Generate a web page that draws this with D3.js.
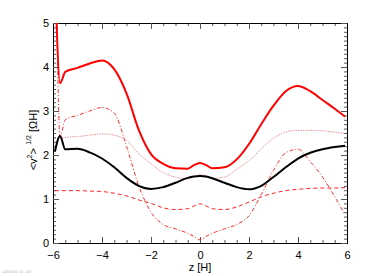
<!DOCTYPE html>
<html>
<head>
<meta charset="utf-8">
<script src="https://cdn.jsdelivr.net/npm/d3@7"></script>
<style>
  body { margin: 0; background: #fff; }
  text { font-family: "Liberation Sans", Arial, sans-serif; }
</style>
</head>
<body>
<svg id="chart" width="382" height="276"></svg>
<script>
// z grid shared by all profiles
const zGrid = [-5.92, -5.71, -5.5, -5, -4.5, -4, -3.5, -3, -2.5, -2, -1.5, -1, -0.5, -0.25,
  0, 0.25, 0.5, 1, 1.5, 2, 2.5, 3, 3.5, 4, 4.5, 5, 5.5, 5.92];

const vTotal = [6.2, 3.63, 3.89, 3.98, 4.08, 4.15, 3.95, 3.4, 2.57, 2.02, 1.8, 1.7, 1.69, 1.77,
  1.82, 1.77, 1.7, 1.72, 1.9, 2.25, 2.7, 3.12, 3.45, 3.57, 3.45, 3.25, 3.05, 2.87];
const vBlack = [2.08, 2.43, 2.13, 2.14, 2.06, 1.92, 1.72, 1.48, 1.3, 1.23, 1.27, 1.37, 1.48, 1.51,
  1.52, 1.51, 1.47, 1.37, 1.27, 1.22, 1.3, 1.5, 1.72, 1.92, 2.05, 2.13, 2.18, 2.21];
const vDotted = [2.38, 2.38, 2.4, 2.42, 2.45, 2.48, 2.45, 2.33, 2.03, 1.8, 1.6, 1.5, 1.46, 1.5,
  1.56, 1.52, 1.47, 1.5, 1.68, 1.87, 2.14, 2.38, 2.52, 2.56, 2.56, 2.55, 2.52, 2.49];
const vDashDot = [8, 2.42, 2.8, 2.9, 3.0, 3.08, 2.95, 2.2, 1.3, 0.7, 0.42, 0.32, 0.22, 0.15,
  0.07, 0.15, 0.22, 0.32, 0.42, 0.62, 1.1, 1.65, 2.05, 2.13, 1.85, 1.5, 1.05, 0.64];
const vDashed = [1.19, 1.19, 1.19, 1.19, 1.18, 1.17, 1.13, 1.07, 0.98, 0.9, 0.8, 0.76, 0.78, 0.84,
  0.89, 0.84, 0.78, 0.76, 0.82, 0.93, 1.05, 1.13, 1.19, 1.22, 1.24, 1.25, 1.25, 1.26];

const xTicks = [-6, -4, -2, 0, 2, 4, 6];
const yTicks = [0, 1, 2, 3, 4, 5];

const svg = d3.select('#chart');
const pLeft = 53, pRight = 347, pTop = 23, pBottom = 243;

const x = d3.scaleLinear().domain([-6, 6]).range([pLeft, pRight]);
const y = d3.scaleLinear().domain([0, 5]).range([pBottom, pTop]);

svg.append('defs').append('clipPath').attr('id', 'plot')
  .append('rect').attr('x', pLeft).attr('y', pTop)
  .attr('width', pRight - pLeft).attr('height', pBottom - pTop);

// axes with inward ticks on all four sides
const minorX = d3.range(-6, 6.01, 0.5);
const minorY = d3.range(0, 5.001, 0.1);

function addAxis(axisFn, scale, major, minor, transform, labels, pad) {
  const g = svg.append('g').attr('transform', transform);
  g.call(axisFn(scale).tickValues(minor).tickSize(-3).tickFormat(''));
  const gm = svg.append('g').attr('transform', transform);
  gm.call(axisFn(scale).tickValues(major).tickSize(-6).tickPadding(pad)
    .tickFormat(labels ? (d) => (d < 0 ? '\u2212' + Math.abs(d) : d) : ''));
  [g, gm].forEach((a) => {
    a.select('.domain').attr('stroke', '#000');
    a.selectAll('.tick line').attr('stroke', '#555');
    a.selectAll('text').attr('font-size', 11).attr('fill', '#000')
      .attr('font-family', '"Liberation Sans", Arial, sans-serif');
  });
  return gm;
}

addAxis(d3.axisBottom, x, xTicks, minorX, `translate(0,${pBottom})`, true, 8);
addAxis(d3.axisTop, x, xTicks, minorX, `translate(0,${pTop})`, false, 8);
addAxis(d3.axisLeft, y, yTicks, minorY, `translate(${pLeft},0)`, true, 4);
addAxis(d3.axisRight, y, yTicks, minorY, `translate(${pRight},0)`, false, 4);

// profiles
const series = [
  { values: vDashed, color: '#ff2020', width: 1, dash: '4,3' },
  { values: vDashDot, color: '#ff3030', width: 1, dash: '4,2,1,2' },
  { values: vDotted, color: '#ff6060', width: 1, dash: '1,1.5' },
  { values: vBlack, color: '#000', width: 2, dash: null },
  { values: vTotal, color: '#ff0000', width: 2, dash: null },
];

const line = d3.line()
  .x((d) => x(d[0]))
  .y((d) => y(d[1]))
  .curve(d3.curveMonotoneX);

const plot = svg.append('g').attr('clip-path', 'url(#plot)');
series.forEach((s) => {
  plot.append('path')
    .datum(zGrid.map((z, i) => [z, s.values[i]]))
    .attr('d', line)
    .attr('fill', 'none')
    .attr('stroke', s.color)
    .attr('stroke-width', s.width)
    .attr('stroke-dasharray', s.dash)
    .attr('stroke-linejoin', 'round');
});

// axis titles
svg.append('text')
  .attr('x', (pLeft + pRight) / 2).attr('y', 271)
  .attr('text-anchor', 'middle').attr('font-size', 11)
  .text('z [H]');

const yl = svg.append('text')
  .attr('transform', 'translate(37,140) rotate(-90)')
  .attr('text-anchor', 'middle').attr('font-size', 11);
yl.append('tspan').text('<v');
yl.append('tspan').attr('font-size', 7).attr('dy', -5).text('2');
yl.append('tspan').attr('dy', 5).text('>');
yl.append('tspan').attr('font-size', 7).attr('dy', -6).text('\u2009 1/2');
yl.append('tspan').attr('dy', 6).text(' [\u03A9H]');

// tiny footer stamp
svg.append('text')
  .attr('x', 2).attr('y', 273).attr('font-size', 4).attr('fill', '#bbb')
  .text('a2b0000 00 - 00');
</script>
</body>
</html>
